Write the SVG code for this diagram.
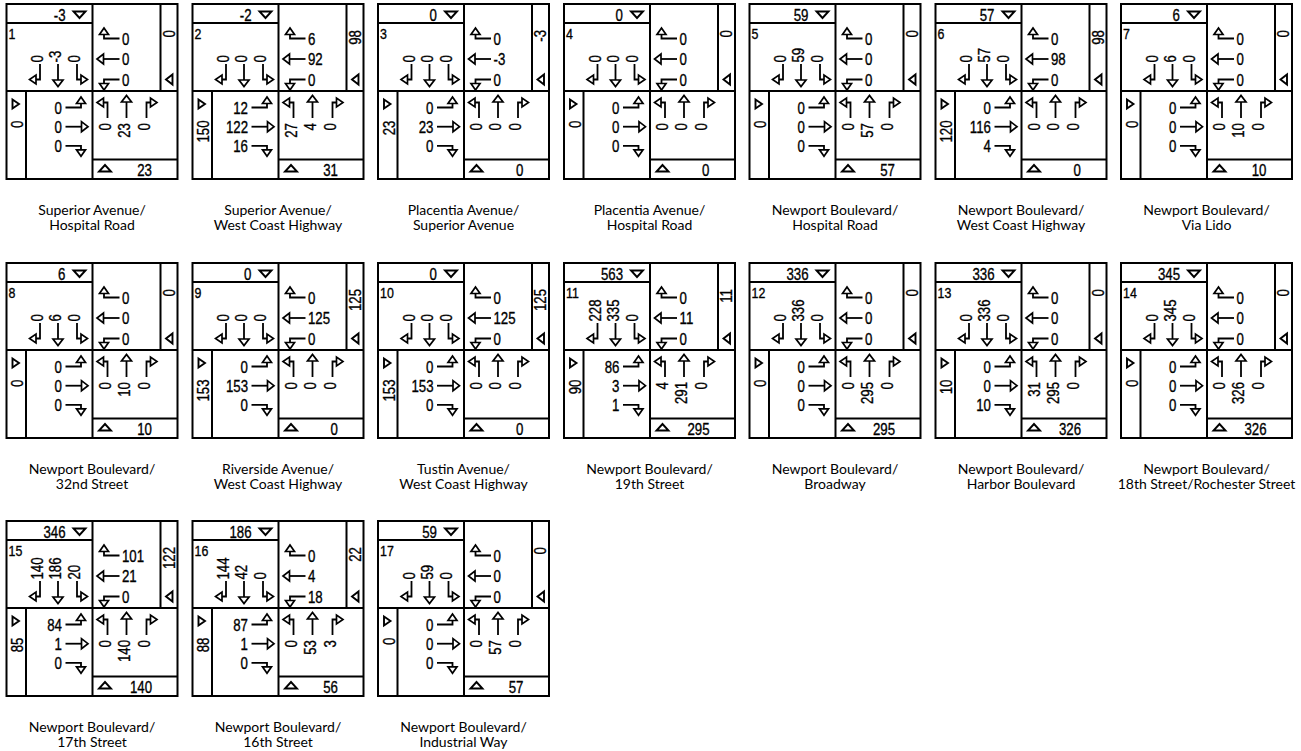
<svg xmlns="http://www.w3.org/2000/svg" width="1301" height="751" viewBox="0 0 1301 751">
<style>
.ln{fill:none;stroke:#000;stroke-width:2}
.tri{fill:#fff;stroke:#000;stroke-width:1.9;stroke-linejoin:miter}
.ar path{fill:none;stroke:#000;stroke-width:1.8}
.ar polygon{fill:#fff;stroke:#000;stroke-width:1.7}
.n{font-family:"Liberation Sans",Arial,sans-serif;font-size:17px;fill:#000;stroke:#000;stroke-width:.35}
.c{font-size:15.5px}
.e{text-anchor:end}
.lb{font-family:Lato,"Open Sans",sans-serif;font-size:14px;text-anchor:middle;fill:#000}
</style>
<defs>
<g id="aT" class="ar"><path d="M0,0V16"/><polygon points="-5,16 5,16 0,22.5"/></g>
<g id="aL" class="ar"><path d="M0,0V15.5H-4"/><polygon points="-4,11 -4,20 -10.5,15.5"/></g>
<g id="aR" class="ar"><path d="M0,0V15.5H4"/><polygon points="4,11 4,20 10.5,15.5"/></g>
<g id="base">
<rect class="ln" x="0" y="0" width="171" height="175"/>
<path class="ln" d="M86,0V175M0,87H171M0,19H86M154,0V87M19.5,87V175M86,155.5H171"/>
<polygon class="tri" points="67,7.5 79,7.5 73,14"/>
<polygon class="tri" points="92.5,167.5 104.5,167.5 98.5,161"/>
<polygon class="tri" points="6,95.5 6,104.5 12.5,100"/>
<polygon class="tri" points="166,70.5 166,80.5 159.5,75.5"/>
<use href="#aL" transform="translate(33.5,60)"/>
<use href="#aT" transform="translate(51.5,60)"/>
<use href="#aR" transform="translate(70.5,60)"/>
<use href="#aL" transform="translate(113,34.5) rotate(90)"/>
<use href="#aT" transform="translate(113,55) rotate(90)"/>
<use href="#aR" transform="translate(113,75.5) rotate(90)"/>
<use href="#aR" transform="translate(59,103.5) rotate(-90)"/>
<use href="#aT" transform="translate(59,122.7) rotate(-90)"/>
<use href="#aL" transform="translate(59,141.8) rotate(-90)"/>
<use href="#aR" transform="translate(101,114) rotate(180)"/>
<use href="#aT" transform="translate(120,114) rotate(180)"/>
<use href="#aL" transform="translate(140,114) rotate(180)"/>
</g>
</defs>
<rect width="1301" height="751" fill="#fff"/>

<g id="c1" transform="translate(6.5,4)"><use href="#base"/>
<text class="n e" transform="translate(59,16.5) scale(.78,1)">-3</text><text class="n c" transform="translate(2,35) scale(.8,1)">1</text>
<text class="n" transform="translate(36.5,58.5) rotate(-90) scale(.78,1)">0</text><text class="n" transform="translate(54.5,58.5) rotate(-90) scale(.78,1)">-3</text><text class="n" transform="translate(73.5,58.5) rotate(-90) scale(.78,1)">0</text>
<text class="n" transform="translate(115.5,40.5) scale(.78,1)">0</text><text class="n" transform="translate(115.5,61) scale(.78,1)">0</text><text class="n" transform="translate(115.5,81.5) scale(.78,1)">0</text>
<text class="n e" transform="translate(168,26) rotate(-90) scale(.78,1)">0</text>
<text class="n e" transform="translate(55.5,109.5) scale(.78,1)">0</text><text class="n e" transform="translate(55.5,128.7) scale(.78,1)">0</text><text class="n e" transform="translate(55.5,147.8) scale(.78,1)">0</text>
<text class="n e" transform="translate(16.5,116.5) rotate(-90) scale(.78,1)">0</text>
<text class="n e" transform="translate(104,119) rotate(-90) scale(.78,1)">0</text><text class="n e" transform="translate(123,119) rotate(-90) scale(.78,1)">23</text><text class="n e" transform="translate(143,119) rotate(-90) scale(.78,1)">0</text>
<text class="n e" transform="translate(145.5,172) scale(.78,1)">23</text>
<text class="lb" x="85.5" y="211">Superior Avenue/</text><text class="lb" x="85.5" y="226">Hospital Road</text>
</g>

<g id="c2" transform="translate(192.5,4)"><use href="#base"/>
<text class="n e" transform="translate(59,16.5) scale(.78,1)">-2</text><text class="n c" transform="translate(2,35) scale(.8,1)">2</text>
<text class="n" transform="translate(36.5,58.5) rotate(-90) scale(.78,1)">0</text><text class="n" transform="translate(54.5,58.5) rotate(-90) scale(.78,1)">0</text><text class="n" transform="translate(73.5,58.5) rotate(-90) scale(.78,1)">0</text>
<text class="n" transform="translate(115.5,40.5) scale(.78,1)">6</text><text class="n" transform="translate(115.5,61) scale(.78,1)">92</text><text class="n" transform="translate(115.5,81.5) scale(.78,1)">0</text>
<text class="n e" transform="translate(168,26) rotate(-90) scale(.78,1)">98</text>
<text class="n e" transform="translate(55.5,109.5) scale(.78,1)">12</text><text class="n e" transform="translate(55.5,128.7) scale(.78,1)">122</text><text class="n e" transform="translate(55.5,147.8) scale(.78,1)">16</text>
<text class="n e" transform="translate(16.5,116.5) rotate(-90) scale(.78,1)">150</text>
<text class="n e" transform="translate(104,119) rotate(-90) scale(.78,1)">27</text><text class="n e" transform="translate(123,119) rotate(-90) scale(.78,1)">4</text><text class="n e" transform="translate(143,119) rotate(-90) scale(.78,1)">0</text>
<text class="n e" transform="translate(145.5,172) scale(.78,1)">31</text>
<text class="lb" x="85.5" y="211">Superior Avenue/</text><text class="lb" x="85.5" y="226">West Coast Highway</text>
</g>

<g id="c3" transform="translate(378,4)"><use href="#base"/>
<text class="n e" transform="translate(59,16.5) scale(.78,1)">0</text><text class="n c" transform="translate(2,35) scale(.8,1)">3</text>
<text class="n" transform="translate(36.5,58.5) rotate(-90) scale(.78,1)">0</text><text class="n" transform="translate(54.5,58.5) rotate(-90) scale(.78,1)">0</text><text class="n" transform="translate(73.5,58.5) rotate(-90) scale(.78,1)">0</text>
<text class="n" transform="translate(115.5,40.5) scale(.78,1)">0</text><text class="n" transform="translate(115.5,61) scale(.78,1)">-3</text><text class="n" transform="translate(115.5,81.5) scale(.78,1)">0</text>
<text class="n e" transform="translate(168,26) rotate(-90) scale(.78,1)">-3</text>
<text class="n e" transform="translate(55.5,109.5) scale(.78,1)">0</text><text class="n e" transform="translate(55.5,128.7) scale(.78,1)">23</text><text class="n e" transform="translate(55.5,147.8) scale(.78,1)">0</text>
<text class="n e" transform="translate(16.5,116.5) rotate(-90) scale(.78,1)">23</text>
<text class="n e" transform="translate(104,119) rotate(-90) scale(.78,1)">0</text><text class="n e" transform="translate(123,119) rotate(-90) scale(.78,1)">0</text><text class="n e" transform="translate(143,119) rotate(-90) scale(.78,1)">0</text>
<text class="n e" transform="translate(145.5,172) scale(.78,1)">0</text>
<text class="lb" x="85.5" y="211">Placentia Avenue/</text><text class="lb" x="85.5" y="226">Superior Avenue</text>
</g>

<g id="c4" transform="translate(564,4)"><use href="#base"/>
<text class="n e" transform="translate(59,16.5) scale(.78,1)">0</text><text class="n c" transform="translate(2,35) scale(.8,1)">4</text>
<text class="n" transform="translate(36.5,58.5) rotate(-90) scale(.78,1)">0</text><text class="n" transform="translate(54.5,58.5) rotate(-90) scale(.78,1)">0</text><text class="n" transform="translate(73.5,58.5) rotate(-90) scale(.78,1)">0</text>
<text class="n" transform="translate(115.5,40.5) scale(.78,1)">0</text><text class="n" transform="translate(115.5,61) scale(.78,1)">0</text><text class="n" transform="translate(115.5,81.5) scale(.78,1)">0</text>
<text class="n e" transform="translate(168,26) rotate(-90) scale(.78,1)">0</text>
<text class="n e" transform="translate(55.5,109.5) scale(.78,1)">0</text><text class="n e" transform="translate(55.5,128.7) scale(.78,1)">0</text><text class="n e" transform="translate(55.5,147.8) scale(.78,1)">0</text>
<text class="n e" transform="translate(16.5,116.5) rotate(-90) scale(.78,1)">0</text>
<text class="n e" transform="translate(104,119) rotate(-90) scale(.78,1)">0</text><text class="n e" transform="translate(123,119) rotate(-90) scale(.78,1)">0</text><text class="n e" transform="translate(143,119) rotate(-90) scale(.78,1)">0</text>
<text class="n e" transform="translate(145.5,172) scale(.78,1)">0</text>
<text class="lb" x="85.5" y="211">Placentia Avenue/</text><text class="lb" x="85.5" y="226">Hospital Road</text>
</g>

<g id="c5" transform="translate(749.5,4)"><use href="#base"/>
<text class="n e" transform="translate(59,16.5) scale(.78,1)">59</text><text class="n c" transform="translate(2,35) scale(.8,1)">5</text>
<text class="n" transform="translate(36.5,58.5) rotate(-90) scale(.78,1)">0</text><text class="n" transform="translate(54.5,58.5) rotate(-90) scale(.78,1)">59</text><text class="n" transform="translate(73.5,58.5) rotate(-90) scale(.78,1)">0</text>
<text class="n" transform="translate(115.5,40.5) scale(.78,1)">0</text><text class="n" transform="translate(115.5,61) scale(.78,1)">0</text><text class="n" transform="translate(115.5,81.5) scale(.78,1)">0</text>
<text class="n e" transform="translate(168,26) rotate(-90) scale(.78,1)">0</text>
<text class="n e" transform="translate(55.5,109.5) scale(.78,1)">0</text><text class="n e" transform="translate(55.5,128.7) scale(.78,1)">0</text><text class="n e" transform="translate(55.5,147.8) scale(.78,1)">0</text>
<text class="n e" transform="translate(16.5,116.5) rotate(-90) scale(.78,1)">0</text>
<text class="n e" transform="translate(104,119) rotate(-90) scale(.78,1)">0</text><text class="n e" transform="translate(123,119) rotate(-90) scale(.78,1)">57</text><text class="n e" transform="translate(143,119) rotate(-90) scale(.78,1)">0</text>
<text class="n e" transform="translate(145.5,172) scale(.78,1)">57</text>
<text class="lb" x="85.5" y="211">Newport Boulevard/</text><text class="lb" x="85.5" y="226">Hospital Road</text>
</g>

<g id="c6" transform="translate(935.5,4)"><use href="#base"/>
<text class="n e" transform="translate(59,16.5) scale(.78,1)">57</text><text class="n c" transform="translate(2,35) scale(.8,1)">6</text>
<text class="n" transform="translate(36.5,58.5) rotate(-90) scale(.78,1)">0</text><text class="n" transform="translate(54.5,58.5) rotate(-90) scale(.78,1)">57</text><text class="n" transform="translate(73.5,58.5) rotate(-90) scale(.78,1)">0</text>
<text class="n" transform="translate(115.5,40.5) scale(.78,1)">0</text><text class="n" transform="translate(115.5,61) scale(.78,1)">98</text><text class="n" transform="translate(115.5,81.5) scale(.78,1)">0</text>
<text class="n e" transform="translate(168,26) rotate(-90) scale(.78,1)">98</text>
<text class="n e" transform="translate(55.5,109.5) scale(.78,1)">0</text><text class="n e" transform="translate(55.5,128.7) scale(.78,1)">116</text><text class="n e" transform="translate(55.5,147.8) scale(.78,1)">4</text>
<text class="n e" transform="translate(16.5,116.5) rotate(-90) scale(.78,1)">120</text>
<text class="n e" transform="translate(104,119) rotate(-90) scale(.78,1)">0</text><text class="n e" transform="translate(123,119) rotate(-90) scale(.78,1)">0</text><text class="n e" transform="translate(143,119) rotate(-90) scale(.78,1)">0</text>
<text class="n e" transform="translate(145.5,172) scale(.78,1)">0</text>
<text class="lb" x="85.5" y="211">Newport Boulevard/</text><text class="lb" x="85.5" y="226">West Coast Highway</text>
</g>

<g id="c7" transform="translate(1121,4)"><use href="#base"/>
<text class="n e" transform="translate(59,16.5) scale(.78,1)">6</text><text class="n c" transform="translate(2,35) scale(.8,1)">7</text>
<text class="n" transform="translate(36.5,58.5) rotate(-90) scale(.78,1)">0</text><text class="n" transform="translate(54.5,58.5) rotate(-90) scale(.78,1)">6</text><text class="n" transform="translate(73.5,58.5) rotate(-90) scale(.78,1)">0</text>
<text class="n" transform="translate(115.5,40.5) scale(.78,1)">0</text><text class="n" transform="translate(115.5,61) scale(.78,1)">0</text><text class="n" transform="translate(115.5,81.5) scale(.78,1)">0</text>
<text class="n e" transform="translate(168,26) rotate(-90) scale(.78,1)">0</text>
<text class="n e" transform="translate(55.5,109.5) scale(.78,1)">0</text><text class="n e" transform="translate(55.5,128.7) scale(.78,1)">0</text><text class="n e" transform="translate(55.5,147.8) scale(.78,1)">0</text>
<text class="n e" transform="translate(16.5,116.5) rotate(-90) scale(.78,1)">0</text>
<text class="n e" transform="translate(104,119) rotate(-90) scale(.78,1)">0</text><text class="n e" transform="translate(123,119) rotate(-90) scale(.78,1)">10</text><text class="n e" transform="translate(143,119) rotate(-90) scale(.78,1)">0</text>
<text class="n e" transform="translate(145.5,172) scale(.78,1)">10</text>
<text class="lb" x="85.5" y="211">Newport Boulevard/</text><text class="lb" x="85.5" y="226">Via Lido</text>
</g>

<g id="c8" transform="translate(6.5,263)"><use href="#base"/>
<text class="n e" transform="translate(59,16.5) scale(.78,1)">6</text><text class="n c" transform="translate(2,35) scale(.8,1)">8</text>
<text class="n" transform="translate(36.5,58.5) rotate(-90) scale(.78,1)">0</text><text class="n" transform="translate(54.5,58.5) rotate(-90) scale(.78,1)">6</text><text class="n" transform="translate(73.5,58.5) rotate(-90) scale(.78,1)">0</text>
<text class="n" transform="translate(115.5,40.5) scale(.78,1)">0</text><text class="n" transform="translate(115.5,61) scale(.78,1)">0</text><text class="n" transform="translate(115.5,81.5) scale(.78,1)">0</text>
<text class="n e" transform="translate(168,26) rotate(-90) scale(.78,1)">0</text>
<text class="n e" transform="translate(55.5,109.5) scale(.78,1)">0</text><text class="n e" transform="translate(55.5,128.7) scale(.78,1)">0</text><text class="n e" transform="translate(55.5,147.8) scale(.78,1)">0</text>
<text class="n e" transform="translate(16.5,116.5) rotate(-90) scale(.78,1)">0</text>
<text class="n e" transform="translate(104,119) rotate(-90) scale(.78,1)">0</text><text class="n e" transform="translate(123,119) rotate(-90) scale(.78,1)">10</text><text class="n e" transform="translate(143,119) rotate(-90) scale(.78,1)">0</text>
<text class="n e" transform="translate(145.5,172) scale(.78,1)">10</text>
<text class="lb" x="85.5" y="211">Newport Boulevard/</text><text class="lb" x="85.5" y="226">32nd Street</text>
</g>

<g id="c9" transform="translate(192.5,263)"><use href="#base"/>
<text class="n e" transform="translate(59,16.5) scale(.78,1)">0</text><text class="n c" transform="translate(2,35) scale(.8,1)">9</text>
<text class="n" transform="translate(36.5,58.5) rotate(-90) scale(.78,1)">0</text><text class="n" transform="translate(54.5,58.5) rotate(-90) scale(.78,1)">0</text><text class="n" transform="translate(73.5,58.5) rotate(-90) scale(.78,1)">0</text>
<text class="n" transform="translate(115.5,40.5) scale(.78,1)">0</text><text class="n" transform="translate(115.5,61) scale(.78,1)">125</text><text class="n" transform="translate(115.5,81.5) scale(.78,1)">0</text>
<text class="n e" transform="translate(168,26) rotate(-90) scale(.78,1)">125</text>
<text class="n e" transform="translate(55.5,109.5) scale(.78,1)">0</text><text class="n e" transform="translate(55.5,128.7) scale(.78,1)">153</text><text class="n e" transform="translate(55.5,147.8) scale(.78,1)">0</text>
<text class="n e" transform="translate(16.5,116.5) rotate(-90) scale(.78,1)">153</text>
<text class="n e" transform="translate(104,119) rotate(-90) scale(.78,1)">0</text><text class="n e" transform="translate(123,119) rotate(-90) scale(.78,1)">0</text><text class="n e" transform="translate(143,119) rotate(-90) scale(.78,1)">0</text>
<text class="n e" transform="translate(145.5,172) scale(.78,1)">0</text>
<text class="lb" x="85.5" y="211">Riverside Avenue/</text><text class="lb" x="85.5" y="226">West Coast Highway</text>
</g>

<g id="c10" transform="translate(378,263)"><use href="#base"/>
<text class="n e" transform="translate(59,16.5) scale(.78,1)">0</text><text class="n c" transform="translate(2,35) scale(.8,1)">10</text>
<text class="n" transform="translate(36.5,58.5) rotate(-90) scale(.78,1)">0</text><text class="n" transform="translate(54.5,58.5) rotate(-90) scale(.78,1)">0</text><text class="n" transform="translate(73.5,58.5) rotate(-90) scale(.78,1)">0</text>
<text class="n" transform="translate(115.5,40.5) scale(.78,1)">0</text><text class="n" transform="translate(115.5,61) scale(.78,1)">125</text><text class="n" transform="translate(115.5,81.5) scale(.78,1)">0</text>
<text class="n e" transform="translate(168,26) rotate(-90) scale(.78,1)">125</text>
<text class="n e" transform="translate(55.5,109.5) scale(.78,1)">0</text><text class="n e" transform="translate(55.5,128.7) scale(.78,1)">153</text><text class="n e" transform="translate(55.5,147.8) scale(.78,1)">0</text>
<text class="n e" transform="translate(16.5,116.5) rotate(-90) scale(.78,1)">153</text>
<text class="n e" transform="translate(104,119) rotate(-90) scale(.78,1)">0</text><text class="n e" transform="translate(123,119) rotate(-90) scale(.78,1)">0</text><text class="n e" transform="translate(143,119) rotate(-90) scale(.78,1)">0</text>
<text class="n e" transform="translate(145.5,172) scale(.78,1)">0</text>
<text class="lb" x="85.5" y="211">Tustin Avenue/</text><text class="lb" x="85.5" y="226">West Coast Highway</text>
</g>

<g id="c11" transform="translate(564,263)"><use href="#base"/>
<text class="n e" transform="translate(59,16.5) scale(.78,1)">563</text><text class="n c" transform="translate(2,35) scale(.8,1)">11</text>
<text class="n" transform="translate(36.5,58.5) rotate(-90) scale(.78,1)">228</text><text class="n" transform="translate(54.5,58.5) rotate(-90) scale(.78,1)">335</text><text class="n" transform="translate(73.5,58.5) rotate(-90) scale(.78,1)">0</text>
<text class="n" transform="translate(115.5,40.5) scale(.78,1)">0</text><text class="n" transform="translate(115.5,61) scale(.78,1)">11</text><text class="n" transform="translate(115.5,81.5) scale(.78,1)">0</text>
<text class="n e" transform="translate(168,26) rotate(-90) scale(.78,1)">11</text>
<text class="n e" transform="translate(55.5,109.5) scale(.78,1)">86</text><text class="n e" transform="translate(55.5,128.7) scale(.78,1)">3</text><text class="n e" transform="translate(55.5,147.8) scale(.78,1)">1</text>
<text class="n e" transform="translate(16.5,116.5) rotate(-90) scale(.78,1)">90</text>
<text class="n e" transform="translate(104,119) rotate(-90) scale(.78,1)">4</text><text class="n e" transform="translate(123,119) rotate(-90) scale(.78,1)">291</text><text class="n e" transform="translate(143,119) rotate(-90) scale(.78,1)">0</text>
<text class="n e" transform="translate(145.5,172) scale(.78,1)">295</text>
<text class="lb" x="85.5" y="211">Newport Boulevard/</text><text class="lb" x="85.5" y="226">19th Street</text>
</g>

<g id="c12" transform="translate(749.5,263)"><use href="#base"/>
<text class="n e" transform="translate(59,16.5) scale(.78,1)">336</text><text class="n c" transform="translate(2,35) scale(.8,1)">12</text>
<text class="n" transform="translate(36.5,58.5) rotate(-90) scale(.78,1)">0</text><text class="n" transform="translate(54.5,58.5) rotate(-90) scale(.78,1)">336</text><text class="n" transform="translate(73.5,58.5) rotate(-90) scale(.78,1)">0</text>
<text class="n" transform="translate(115.5,40.5) scale(.78,1)">0</text><text class="n" transform="translate(115.5,61) scale(.78,1)">0</text><text class="n" transform="translate(115.5,81.5) scale(.78,1)">0</text>
<text class="n e" transform="translate(168,26) rotate(-90) scale(.78,1)">0</text>
<text class="n e" transform="translate(55.5,109.5) scale(.78,1)">0</text><text class="n e" transform="translate(55.5,128.7) scale(.78,1)">0</text><text class="n e" transform="translate(55.5,147.8) scale(.78,1)">0</text>
<text class="n e" transform="translate(16.5,116.5) rotate(-90) scale(.78,1)">0</text>
<text class="n e" transform="translate(104,119) rotate(-90) scale(.78,1)">0</text><text class="n e" transform="translate(123,119) rotate(-90) scale(.78,1)">295</text><text class="n e" transform="translate(143,119) rotate(-90) scale(.78,1)">0</text>
<text class="n e" transform="translate(145.5,172) scale(.78,1)">295</text>
<text class="lb" x="85.5" y="211">Newport Boulevard/</text><text class="lb" x="85.5" y="226">Broadway</text>
</g>

<g id="c13" transform="translate(935.5,263)"><use href="#base"/>
<text class="n e" transform="translate(59,16.5) scale(.78,1)">336</text><text class="n c" transform="translate(2,35) scale(.8,1)">13</text>
<text class="n" transform="translate(36.5,58.5) rotate(-90) scale(.78,1)">0</text><text class="n" transform="translate(54.5,58.5) rotate(-90) scale(.78,1)">336</text><text class="n" transform="translate(73.5,58.5) rotate(-90) scale(.78,1)">0</text>
<text class="n" transform="translate(115.5,40.5) scale(.78,1)">0</text><text class="n" transform="translate(115.5,61) scale(.78,1)">0</text><text class="n" transform="translate(115.5,81.5) scale(.78,1)">0</text>
<text class="n e" transform="translate(168,26) rotate(-90) scale(.78,1)">0</text>
<text class="n e" transform="translate(55.5,109.5) scale(.78,1)">0</text><text class="n e" transform="translate(55.5,128.7) scale(.78,1)">0</text><text class="n e" transform="translate(55.5,147.8) scale(.78,1)">10</text>
<text class="n e" transform="translate(16.5,116.5) rotate(-90) scale(.78,1)">10</text>
<text class="n e" transform="translate(104,119) rotate(-90) scale(.78,1)">31</text><text class="n e" transform="translate(123,119) rotate(-90) scale(.78,1)">295</text><text class="n e" transform="translate(143,119) rotate(-90) scale(.78,1)">0</text>
<text class="n e" transform="translate(145.5,172) scale(.78,1)">326</text>
<text class="lb" x="85.5" y="211">Newport Boulevard/</text><text class="lb" x="85.5" y="226">Harbor Boulevard</text>
</g>

<g id="c14" transform="translate(1121,263)"><use href="#base"/>
<text class="n e" transform="translate(59,16.5) scale(.78,1)">345</text><text class="n c" transform="translate(2,35) scale(.8,1)">14</text>
<text class="n" transform="translate(36.5,58.5) rotate(-90) scale(.78,1)">0</text><text class="n" transform="translate(54.5,58.5) rotate(-90) scale(.78,1)">345</text><text class="n" transform="translate(73.5,58.5) rotate(-90) scale(.78,1)">0</text>
<text class="n" transform="translate(115.5,40.5) scale(.78,1)">0</text><text class="n" transform="translate(115.5,61) scale(.78,1)">0</text><text class="n" transform="translate(115.5,81.5) scale(.78,1)">0</text>
<text class="n e" transform="translate(168,26) rotate(-90) scale(.78,1)">0</text>
<text class="n e" transform="translate(55.5,109.5) scale(.78,1)">0</text><text class="n e" transform="translate(55.5,128.7) scale(.78,1)">0</text><text class="n e" transform="translate(55.5,147.8) scale(.78,1)">0</text>
<text class="n e" transform="translate(16.5,116.5) rotate(-90) scale(.78,1)">0</text>
<text class="n e" transform="translate(104,119) rotate(-90) scale(.78,1)">0</text><text class="n e" transform="translate(123,119) rotate(-90) scale(.78,1)">326</text><text class="n e" transform="translate(143,119) rotate(-90) scale(.78,1)">0</text>
<text class="n e" transform="translate(145.5,172) scale(.78,1)">326</text>
<text class="lb" x="85.5" y="211">Newport Boulevard/</text><text class="lb" x="85.5" y="226">18th Street/Rochester Street</text>
</g>

<g id="c15" transform="translate(6.5,521)"><use href="#base"/>
<text class="n e" transform="translate(59,16.5) scale(.78,1)">346</text><text class="n c" transform="translate(2,35) scale(.8,1)">15</text>
<text class="n" transform="translate(36.5,58.5) rotate(-90) scale(.78,1)">140</text><text class="n" transform="translate(54.5,58.5) rotate(-90) scale(.78,1)">186</text><text class="n" transform="translate(73.5,58.5) rotate(-90) scale(.78,1)">20</text>
<text class="n" transform="translate(115.5,40.5) scale(.78,1)">101</text><text class="n" transform="translate(115.5,61) scale(.78,1)">21</text><text class="n" transform="translate(115.5,81.5) scale(.78,1)">0</text>
<text class="n e" transform="translate(168,26) rotate(-90) scale(.78,1)">122</text>
<text class="n e" transform="translate(55.5,109.5) scale(.78,1)">84</text><text class="n e" transform="translate(55.5,128.7) scale(.78,1)">1</text><text class="n e" transform="translate(55.5,147.8) scale(.78,1)">0</text>
<text class="n e" transform="translate(16.5,116.5) rotate(-90) scale(.78,1)">85</text>
<text class="n e" transform="translate(104,119) rotate(-90) scale(.78,1)">0</text><text class="n e" transform="translate(123,119) rotate(-90) scale(.78,1)">140</text><text class="n e" transform="translate(143,119) rotate(-90) scale(.78,1)">0</text>
<text class="n e" transform="translate(145.5,172) scale(.78,1)">140</text>
<text class="lb" x="85.5" y="211">Newport Boulevard/</text><text class="lb" x="85.5" y="226">17th Street</text>
</g>

<g id="c16" transform="translate(192.5,521)"><use href="#base"/>
<text class="n e" transform="translate(59,16.5) scale(.78,1)">186</text><text class="n c" transform="translate(2,35) scale(.8,1)">16</text>
<text class="n" transform="translate(36.5,58.5) rotate(-90) scale(.78,1)">144</text><text class="n" transform="translate(54.5,58.5) rotate(-90) scale(.78,1)">42</text><text class="n" transform="translate(73.5,58.5) rotate(-90) scale(.78,1)">0</text>
<text class="n" transform="translate(115.5,40.5) scale(.78,1)">0</text><text class="n" transform="translate(115.5,61) scale(.78,1)">4</text><text class="n" transform="translate(115.5,81.5) scale(.78,1)">18</text>
<text class="n e" transform="translate(168,26) rotate(-90) scale(.78,1)">22</text>
<text class="n e" transform="translate(55.5,109.5) scale(.78,1)">87</text><text class="n e" transform="translate(55.5,128.7) scale(.78,1)">1</text><text class="n e" transform="translate(55.5,147.8) scale(.78,1)">0</text>
<text class="n e" transform="translate(16.5,116.5) rotate(-90) scale(.78,1)">88</text>
<text class="n e" transform="translate(104,119) rotate(-90) scale(.78,1)">0</text><text class="n e" transform="translate(123,119) rotate(-90) scale(.78,1)">53</text><text class="n e" transform="translate(143,119) rotate(-90) scale(.78,1)">3</text>
<text class="n e" transform="translate(145.5,172) scale(.78,1)">56</text>
<text class="lb" x="85.5" y="211">Newport Boulevard/</text><text class="lb" x="85.5" y="226">16th Street</text>
</g>

<g id="c17" transform="translate(378,521)"><use href="#base"/>
<text class="n e" transform="translate(59,16.5) scale(.78,1)">59</text><text class="n c" transform="translate(2,35) scale(.8,1)">17</text>
<text class="n" transform="translate(36.5,58.5) rotate(-90) scale(.78,1)">0</text><text class="n" transform="translate(54.5,58.5) rotate(-90) scale(.78,1)">59</text><text class="n" transform="translate(73.5,58.5) rotate(-90) scale(.78,1)">0</text>
<text class="n" transform="translate(115.5,40.5) scale(.78,1)">0</text><text class="n" transform="translate(115.5,61) scale(.78,1)">0</text><text class="n" transform="translate(115.5,81.5) scale(.78,1)">0</text>
<text class="n e" transform="translate(168,26) rotate(-90) scale(.78,1)">0</text>
<text class="n e" transform="translate(55.5,109.5) scale(.78,1)">0</text><text class="n e" transform="translate(55.5,128.7) scale(.78,1)">0</text><text class="n e" transform="translate(55.5,147.8) scale(.78,1)">0</text>
<text class="n e" transform="translate(16.5,116.5) rotate(-90) scale(.78,1)">0</text>
<text class="n e" transform="translate(104,119) rotate(-90) scale(.78,1)">0</text><text class="n e" transform="translate(123,119) rotate(-90) scale(.78,1)">57</text><text class="n e" transform="translate(143,119) rotate(-90) scale(.78,1)">0</text>
<text class="n e" transform="translate(145.5,172) scale(.78,1)">57</text>
<text class="lb" x="85.5" y="211">Newport Boulevard/</text><text class="lb" x="85.5" y="226">Industrial Way</text>
</g>
</svg>
